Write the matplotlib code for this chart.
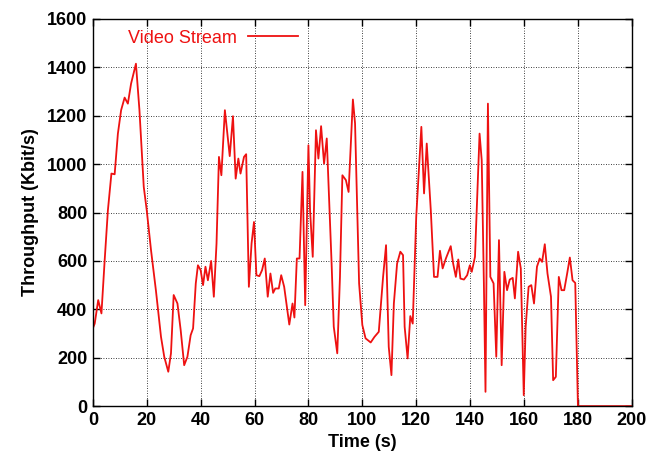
import matplotlib
matplotlib.use('Agg')
import matplotlib.pyplot as plt
import numpy as np

# throughput of the video stream
time_s = [0, 0.7, 2, 3.2, 4.4, 5.6, 6.9, 8.1, 9.3, 10.5, 11.8, 13, 14.2, 16, 17.3,
          18.9, 20, 21.6, 23.4, 25.3, 26.5, 28, 29, 30, 31.4, 32.6, 33.9, 35.1, 36.3,
          37.2, 38.2, 39, 40, 40.9, 41.8, 42.7, 43.9, 44.9, 45.9, 46.8, 47.7, 49.0,
          50.8, 52.0, 53.0, 54.0, 54.8, 56.1, 56.9, 57.9, 58.9, 59.8, 60.7, 61.8,
          62.8, 63.8, 64.9, 65.9, 66.9, 67.7, 69.0, 69.9, 71.0, 72.0, 72.9, 74.1,
          74.8, 75.7, 76.7, 77.8, 78.8, 80.0, 80.6, 81.6, 82.8, 83.7, 84.7, 85.8,
          86.8, 88.6, 89.4, 90.7, 91.7, 92.6, 93.9, 94.9, 96.5, 97.3, 98.8, 100,
          101.2, 103.1, 104.5, 106.1, 107.7, 108.8, 109.8, 110.8, 111.7, 112.9,
          114.1, 115.1, 115.7, 116.8, 117.8, 118.7, 120, 121, 121.9, 122.9, 123.9,
          125.4, 126.6, 127.9, 128.8, 129.8, 131.0, 132.8, 133.7, 134.7, 135.6,
          136.4, 137.7, 138.9, 139.9, 140.6, 141.8, 143.5, 144.3, 145.1, 145.7,
          146.6, 147.5, 148.7, 149.7, 150.7, 151.7, 152.7, 153.7, 154.7, 155.8,
          156.6, 157.8, 158.8, 159.9, 160.6, 161.7, 162.7, 163.7, 164.8, 165.8,
          166.7, 167.7, 168.7, 170, 170.8, 171.8, 172.9, 173.9, 174.9, 176, 177,
          178, 179, 180, 190, 200]
kbps = [321, 341, 438, 383, 603, 810, 961, 958, 1126, 1223, 1275, 1250, 1333, 1415, 1223,
        906, 810, 644, 479, 286, 204, 142, 218, 459, 424, 314, 169, 204, 293,
        321, 507, 582, 562, 500, 576, 520, 600, 452, 672, 1030, 954, 1223,
        1033, 1198, 940, 1023, 961, 1030, 1041, 493, 672, 761, 541, 537,
        562, 610, 452, 548, 468, 486, 486, 541, 493, 410, 337, 424,
        366, 610, 610, 968, 417, 1078, 810, 617, 1140, 1023, 1157, 1002,
        1106, 589, 328, 218, 534, 954, 934, 885, 1267, 1168, 507, 335,
        280, 263, 286, 307, 534, 665, 245, 128, 424, 589,
        638, 624, 328, 197, 372, 341, 782, 975, 1154, 879, 1085,
        810, 534, 534, 642, 569, 610, 661, 589, 534, 606,
        527, 523, 541, 582, 555, 617, 1126, 1016, 507, 59,
        1250, 534, 507, 204, 686, 169, 555, 479, 523, 530,
        445, 638, 569, 45, 328, 493, 500, 424, 576, 610,
        596, 669, 548, 452, 107, 121, 534, 479, 479, 548, 614,
        520, 509, 0, 0, 0]

plt.rcParams['font.family'] = ['Liberation Sans', 'DejaVu Sans']

fig = plt.figure(figsize=(6.63, 4.62), dpi=100)
ax = fig.add_axes([0.140, 0.121, 0.813, 0.838])

ax.plot(time_s, kbps, color='#ee1111', lw=1.3, label='Video Stream')

ax.set_xlim(0, 200)
ax.set_ylim(0, 1600)
ax.set_xticks(np.arange(0, 201, 20))
ax.set_yticks(np.arange(0, 1601, 200))
ax.grid(True, color='black', ls=(0, (1, 2)), lw=0.6)
ax.tick_params(direction='in', top=True, right=True, length=5, width=1,
               labelsize=13, pad=4)
for lab in ax.get_xticklabels() + ax.get_yticklabels():
    lab.set_fontweight('bold')
for s in ax.spines.values():
    s.set_linewidth(1.0)

ax.set_xlabel('Time (s)', fontsize=13, fontweight='bold', labelpad=4)
ax.set_ylabel('Throughput (Kbit/s)', fontsize=13, fontweight='bold', labelpad=6)

leg = ax.legend(loc='upper left', bbox_to_anchor=(0.045, 1.0), markerfirst=False,
                frameon=False, handlelength=2.8, fontsize=13, labelcolor='#ee1111',
                borderaxespad=0.2, handletextpad=0.6)

fig.savefig('out.png', dpi=100)
